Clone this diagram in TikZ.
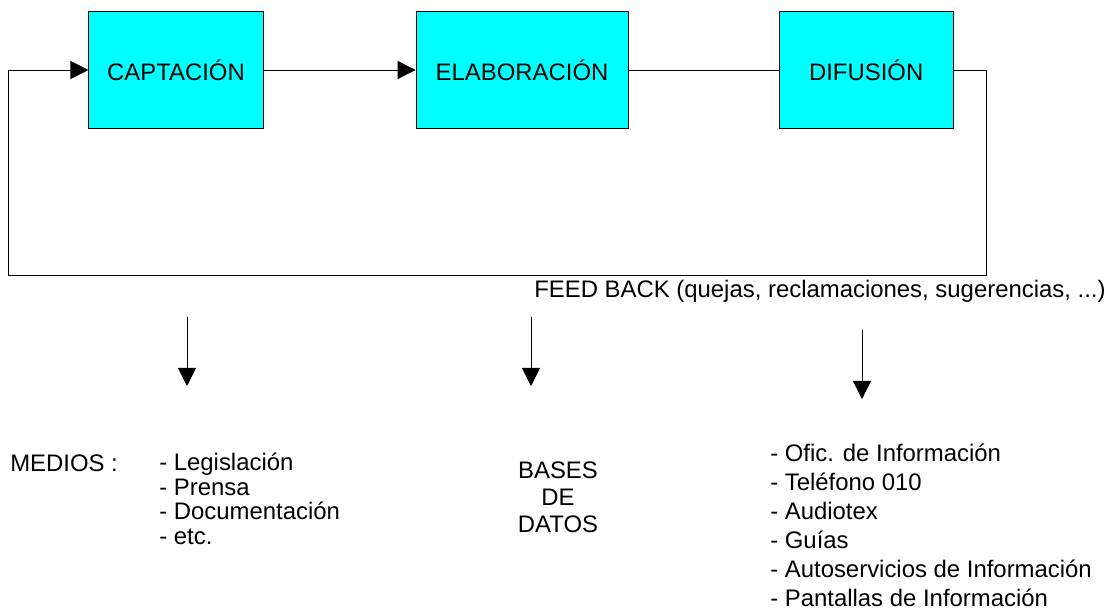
\documentclass[tikz,border=0pt]{standalone}
\usepackage{fontspec}
\setmainfont{Liberation Sans}
\usetikzlibrary{arrows.meta,positioning}
\definecolor{ccyan}{RGB}{0,255,255}

\begin{document}
\begin{tikzpicture}[x=0.025cm, y=-0.025cm,
    stage/.style={rectangle, draw, fill=ccyan, line width=0.7pt, minimum width=4.35cm, minimum height=2.9cm, font=\fontsize{17}{20}\selectfont},
    txt/.style={inner sep=0pt, font=\fontsize{17}{20}\selectfont},
    link/.style={line width=0.7pt},
    flow/.style={line width=0.7pt, -{Triangle[length=0.45cm,width=0.45cm]}}]
    \useasboundingbox (0,0) rectangle (1118,609);

    \node[stage] (Captacion) at (176,70) {CAPTACIÓN};
    \node[stage, minimum width=5.3cm] (Elaboracion) [right=3.8cm of Captacion] {ELABORACIÓN};
    \node[stage] (Difusion) [right=3.75cm of Elaboracion] {DIFUSIÓN};

    \draw[flow] (Captacion) -- (Elaboracion);
    \draw[link] (Elaboracion) -- (Difusion);

    % feed back loop
    \coordinate (FbRight) at (986,275);
    \coordinate (FbLeft) at (8,275);
    \draw[flow] (Difusion.east) -| (FbRight) -| (FbLeft) |- (Captacion.west);
    \node[txt, anchor=base west] (Feedback) at (534,298) {FEED BACK (quejas, reclamaciones, sugerencias, ...)};

    % down arrows
    \coordinate (MediosTop) at (187,317);
    \coordinate (MediosBot) at (187,386);
    \coordinate (BasesTop) at (531,317);
    \coordinate (BasesBot) at (531,386);
    \coordinate (SalidaTop) at (862,330);
    \coordinate (SalidaBot) at (862,399);
    \draw[flow] (MediosTop) -- (MediosBot);
    \draw[flow] (BasesTop) -- (BasesBot);
    \draw[flow] (SalidaTop) -- (SalidaBot);

    \node[txt, anchor=base west] (Medios) at (10,472) {MEDIOS :};
    \node[txt, anchor=north west, align=left, font=\fontsize{17}{17.4}\selectfont] (MediosList) at (159,453)
        {- Legislación\\- Prensa\\- Documentación\\- etc.};
    \node[txt, anchor=north, align=center, font=\fontsize{17}{19.2}\selectfont] (Bases) at (558,462)
        {BASES\\DE\\DATOS};
    \node[txt, anchor=north west, align=left, font=\fontsize{17}{20.5}\selectfont] (SalidaList) at (770,444)
        {- Ofic. de Información\\- Teléfono 010\\- Audiotex\\- Guías\\- Autoservicios de Información\\- Pantallas de Información};
\end{tikzpicture}
\end{document}
